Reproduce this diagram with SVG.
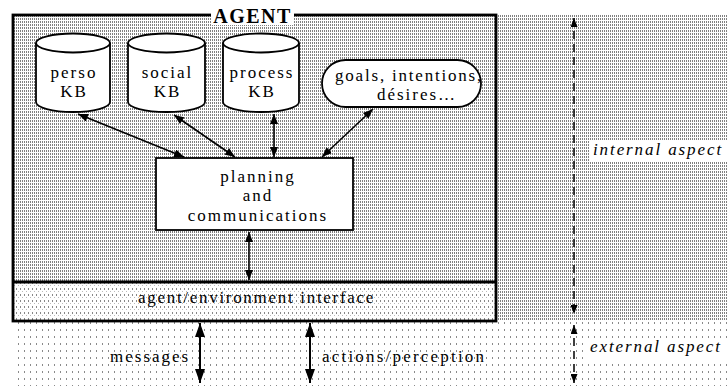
<svg xmlns="http://www.w3.org/2000/svg" width="727" height="386" viewBox="0 0 727 386">
<defs>
<pattern id="dense" width="2" height="3" patternUnits="userSpaceOnUse">
<rect width="2" height="3" fill="#ffffff"/>
<rect x="0" y="0" width="1" height="2" fill="#808080"/>
</pattern>
<pattern id="medium" width="4" height="6" patternUnits="userSpaceOnUse">
<rect width="4" height="6" fill="#ffffff"/>
<rect x="0" y="0" width="1" height="2" fill="#888"/>
<rect x="2" y="3" width="1" height="1" fill="#bbb"/>
</pattern>
<pattern id="sparse" width="6" height="7" patternUnits="userSpaceOnUse">
<rect width="6" height="7" fill="#ffffff"/>
<rect x="0" y="0" width="1" height="2" fill="#8a8a8a"/>
</pattern>
<marker id="ah" viewBox="0 0 10 8" refX="10" refY="4" markerWidth="10" markerHeight="8" markerUnits="userSpaceOnUse" orient="auto-start-reverse">
<path d="M0,0 L10,4 L0,8 Z" fill="#000"/>
</marker>
<marker id="ahb" viewBox="0 0 14 10" refX="14" refY="5" markerWidth="14" markerHeight="10" markerUnits="userSpaceOnUse" orient="auto-start-reverse">
<path d="M0,0 L14,5 L0,10 Z" fill="#000"/>
</marker>
<marker id="ahs" viewBox="0 0 9 7" refX="9" refY="3.5" markerWidth="9" markerHeight="7" markerUnits="userSpaceOnUse" orient="auto-start-reverse">
<path d="M0,0 L9,3.5 L0,7 Z" fill="#000"/>
</marker>
</defs>
<style>
text { font-family: "Liberation Serif", "Times New Roman", serif; fill: #000; }
.lbl { font-size: 17px; letter-spacing: 2px; text-anchor: middle; }
.pc { font-size: 17px; letter-spacing: 2px; text-anchor: middle; }
.it { font-size: 17px; font-style: italic; letter-spacing: 1.9px; }
.sm { font-size: 17px; letter-spacing: 1.7px; }
.shape { fill: #fff; stroke: #000; stroke-width: 1.8; }
.conn { stroke: #000; stroke-width: 1.6; fill: none; marker-start: url(#ah); marker-end: url(#ah); }
.connb { stroke: #000; stroke-width: 2; fill: none; marker-start: url(#ahb); marker-end: url(#ahb); }
.dash { stroke: #000; stroke-width: 1.5; fill: none; stroke-dasharray: 8 5; marker-start: url(#ahs); marker-end: url(#ahs); }
</style>
<rect width="727" height="386" fill="#fff"/>
<g id="backgrounds">
<rect x="13" y="15" width="714" height="268" fill="url(#dense)"/>
<rect x="496" y="283" width="231" height="38" fill="url(#dense)"/>
<rect x="13" y="282" width="483" height="39" fill="url(#medium)"/>
<rect x="13" y="321" width="714" height="65" fill="url(#sparse)"/>
</g>
<g id="agent">
<rect x="13" y="15" width="483" height="306" fill="none" stroke="#000" stroke-width="2.8"/>
<rect x="211" y="5" width="83" height="20" fill="#fff"/>
<text x="252.5" y="22.5" style="font-size:20px;font-weight:bold;letter-spacing:1.5px;text-anchor:middle">AGENT</text>
</g>
<g id="interface">
<line x1="13" y1="282" x2="496" y2="282" stroke="#000" stroke-width="2.8"/>
<text class="sm" x="138" y="303">agent/environment interface</text>
</g>
<g id="perso-kb">
<path class="shape" d="M36,43 L36,102 A37,10 0 0 0 110,102 L110,43"/>
<ellipse class="shape" cx="73" cy="43" rx="37" ry="9.5"/>
<text class="lbl" x="74" y="78">perso</text>
<text class="lbl" x="74" y="97">KB</text>
</g>
<g id="social-kb">
<path class="shape" d="M128,43 L128,102 A38.5,10 0 0 0 205,102 L205,43"/>
<ellipse class="shape" cx="166.5" cy="43" rx="38.5" ry="9.5"/>
<text class="lbl" x="167.5" y="78">social</text>
<text class="lbl" x="167.5" y="97">KB</text>
</g>
<g id="process-kb">
<path class="shape" d="M223,43 L223,102 A38,10 0 0 0 299,102 L299,43"/>
<ellipse class="shape" cx="261" cy="43" rx="38" ry="9.5"/>
<text class="lbl" x="262" y="78">process</text>
<text class="lbl" x="262" y="97">KB</text>
</g>
<g id="goals">
<rect class="shape" x="322" y="60" width="159" height="47" rx="23.5" ry="23.5"/>
<text style="font-size:17px;letter-spacing:1.8px" x="335" y="81">goals, intentions,</text>
<text class="lbl" x="417" y="100">désires…</text>
</g>
<g id="planning">
<rect class="shape" x="156" y="158" width="197" height="72"/>
<text class="pc" x="258" y="182">planning</text>
<text class="pc" x="258" y="201">and</text>
<text class="pc" x="258" y="221">communications</text>
</g>
<g id="aspects">
<rect x="589" y="140" width="138" height="21" fill="#fff"/>
<text class="it" x="593" y="155">internal aspect</text>
<rect x="586" y="338" width="141" height="21" fill="#fff"/>
<text class="it" x="590" y="352">external aspect</text>
</g>
<g id="labels">
<text class="sm" x="110" y="362" style="letter-spacing:2px">messages</text>
<text class="sm" x="322" y="362" style="letter-spacing:2.2px">actions/perception</text>
</g>
<g id="connectors">
<line class="conn" x1="78" y1="114" x2="184" y2="157"/>
<line class="conn" x1="174" y1="115" x2="235" y2="157"/>
<line class="conn" x1="274" y1="114" x2="274" y2="157"/>
<line class="conn" x1="373" y1="109" x2="322" y2="157"/>
<line class="conn" x1="249" y1="232" x2="249" y2="280"/>
<line class="connb" x1="200" y1="323" x2="200" y2="383"/>
<line class="connb" x1="310" y1="323" x2="310" y2="383"/>
<line class="dash" x1="574" y1="18" x2="574" y2="314"/>
<line class="dash" x1="574" y1="325" x2="574" y2="383"/>
</g>
</svg>
